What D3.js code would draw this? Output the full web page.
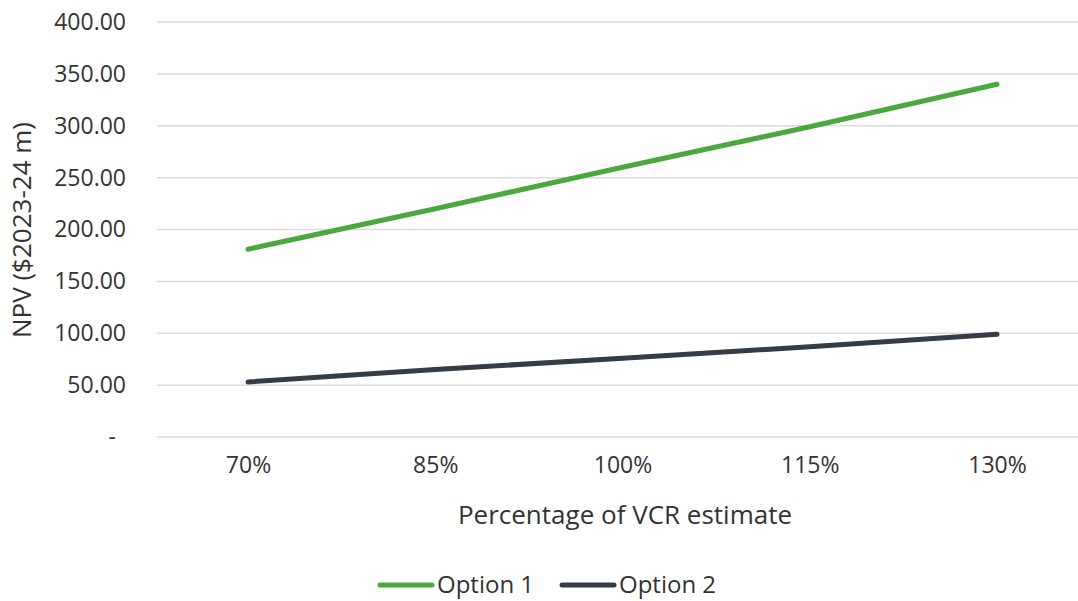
<!DOCTYPE html>
<html>
<head>
<meta charset="utf-8">
<script src="https://cdn.jsdelivr.net/npm/d3@7"></script>
<style>
  body { margin: 0; background: #fff; }
  text { font-family: "Open Sans", "Noto Sans", sans-serif; fill: #333; }
</style>
</head>
<body>
<script>
// chart data
var categories = ["70%", "85%", "100%", "115%", "130%"];
var option1 = [181, 220, 260, 299, 340];
var option2 = [53, 65, 76, 87, 99];
var yTicks = [0, 50, 100, 150, 200, 250, 300, 350, 400];
var seriesNames = ["Option 1", "Option 2"];
var seriesColors = ["#4aa83f", "#343c45"];

var width = 1078,
    height = 601;

var svg = d3.select("body").append("svg")
    .attr("width", width)
    .attr("height", height);

var x = d3.scalePoint()
    .domain(categories)
    .range([248, 997]);

var y = d3.scaleLinear()
    .domain([0, 400])
    .range([437, 22]);

// gridlines
svg.append("g")
  .selectAll("line")
  .data(yTicks)
  .enter().append("line")
    .attr("x1", 157)
    .attr("x2", width)
    .attr("y1", function(d) { return y(d); })
    .attr("y2", function(d) { return y(d); })
    .attr("stroke", "#d9dde1")
    .attr("stroke-width", 1.5);

// y axis labels
var yAxis = d3.axisLeft(y)
    .tickValues(yTicks)
    .tickSize(0)
    .tickPadding(0)
    .tickFormat(function(d) { return d === 0 ? "-" : d3.format(".2f")(d); });

var gy = svg.append("g")
    .attr("transform", "translate(126,0)")
    .call(yAxis);
gy.select(".domain").remove();
gy.attr("font-size", null).attr("font-family", null);
gy.selectAll("text")
    .attr("font-size", 23)
    .attr("fill", "#333");
gy.selectAll(".tick").filter(function(d) { return d === 0; })
  .select("text").attr("dx", -10);

// x axis labels
var xAxis = d3.axisBottom(x).tickSize(0).tickPadding(0);
var gx = svg.append("g")
    .attr("transform", "translate(0,457)")
    .call(xAxis);
gx.select(".domain").remove();
gx.attr("font-size", null).attr("font-family", null);
gx.selectAll("text")
    .attr("font-size", 23)
    .attr("fill", "#333");

// axis titles
svg.append("text")
    .attr("x", 625)
    .attr("y", 524)
    .attr("text-anchor", "middle")
    .attr("font-size", 26)
    .text("Percentage of VCR estimate");

svg.append("text")
    .attr("transform", "translate(31,230) rotate(-90)")
    .attr("text-anchor", "middle")
    .attr("font-size", 26)
    .text("NPV ($2023-24 m)");

// lines
var line = d3.line()
    .x(function(d, i) { return x(categories[i]); })
    .y(function(d) { return y(d); });

[option1, option2].forEach(function(vals, k) {
  svg.append("path")
      .datum(vals)
      .attr("d", line)
      .attr("fill", "none")
      .attr("stroke", seriesColors[k])
      .attr("stroke-width", 5)
      .attr("stroke-linecap", "round");
});

// legend
var legendX = [380, 562];
seriesNames.forEach(function(name, k) {
  var g = svg.append("g").attr("transform", "translate(" + legendX[k] + ",585)");
  g.append("line")
      .attr("x1", 0).attr("x2", 52)
      .attr("stroke", seriesColors[k])
      .attr("stroke-width", 5)
      .attr("stroke-linecap", "round");
  g.append("text")
      .attr("x", 57)
      .attr("y", 8)
      .attr("font-size", 24)
      .text(name);
});
</script>
</body>
</html>
